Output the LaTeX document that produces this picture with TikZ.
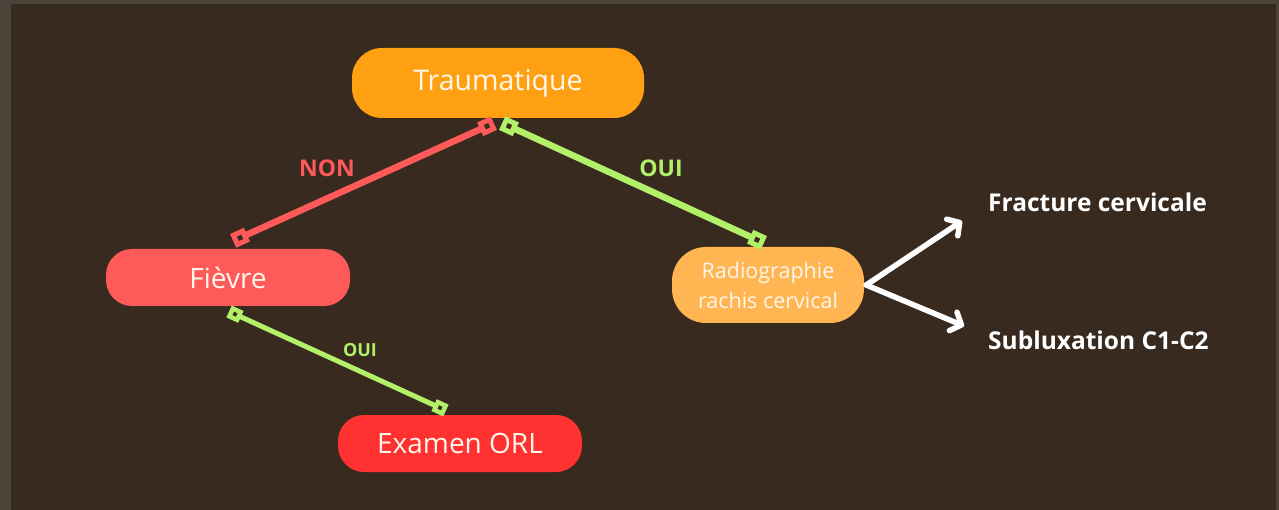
\documentclass[tikz,border=0pt]{standalone}
\usepackage{fontspec}
\setmainfont{Open Sans}
\usetikzlibrary{arrows.meta}
\definecolor{frame}{HTML}{4B4239}
\definecolor{bg}{HTML}{392A1F}
\definecolor{orangeA}{HTML}{FF9F12}
\definecolor{redA}{HTML}{FF5A5A}
\definecolor{redB}{HTML}{FF3131}
\definecolor{orangeB}{HTML}{FFB552}
\definecolor{greenA}{HTML}{B2F06A}
\definecolor{cream}{HTML}{FFF6EC}
\tikzset{
  pill/.style={draw=none, text=cream, align=center, inner sep=0pt},
  marker/.style={draw, fill=bg, sloped, shape=rectangle, inner sep=0pt, minimum size=10pt, line width=5pt},
  smarker/.style={draw, fill=bg, sloped, shape=rectangle, inner sep=0pt, minimum size=8.5pt, line width=4.5pt},
  nonline/.style={draw=redA, line width=6.5pt},
  ouiline/.style={draw=greenA, line width=6.5pt},
  smallouiline/.style={draw=greenA, line width=5pt},
  whitearrow/.style={draw=white, line width=5.5pt, line cap=round,
    -{Straight Barb[length=9pt,width=20pt,line width=5.5pt,round]}},
  outtext/.style={text=white, font=\fontsize{24.5}{28}\selectfont\bfseries, anchor=west, inner sep=0pt},
  lab/.style={font=\fontsize{23}{26}\selectfont\bfseries, inner sep=0pt}
}
\begin{document}
\begin{tikzpicture}[x=1pt,y=-1pt]
\useasboundingbox (0,0) rectangle (1279,510);
\fill[frame] (0,0) rectangle (1279,510);
\fill[bg] (11,4) rectangle (1276,510);

\node[pill, fill=orangeA, minimum width=292pt, minimum height=70pt, rounded corners=30pt,
  font=\fontsize{28.5}{32}\selectfont] (trau) at (498,83) {\raisebox{-1.5pt}{Traumatique}};
\node[pill, fill=redA, minimum width=244pt, minimum height=57pt, rounded corners=26pt,
  font=\fontsize{28}{32}\selectfont] (fiev) at (228,277.5) {Fièvre};
\node[pill, fill=redB, minimum width=244pt, minimum height=57pt, rounded corners=26pt,
  font=\fontsize{28}{32}\selectfont] (orl) at (460,443.5) {Examen ORL};
\node[pill, fill=orangeB, minimum width=192pt, minimum height=76pt, rounded corners=34pt,
  font=\fontsize{21.5}{30}\selectfont] (radio) at (768,285) {Radiographie\\rachis cervical};

\node[outtext] (frac) at (988,202) {Fracture cervicale};
\node[outtext] (sub) at (988,340) {Subluxation C1-C2};

\draw[nonline] ([shift={(-11,8)}]trau.south) -- ([shift={(12,-11)}]fiev.north)
  node[marker, draw=redA, pos=0] {} node[marker, draw=redA, pos=1] {};
\draw[ouiline] ([shift={(11,8)}]trau.south) -- ([shift={(-11,-7)}]radio.north)
  node[marker, draw=greenA, pos=0] {} node[marker, draw=greenA, pos=1] {};
\draw[smallouiline] ([shift={(7,8)}]fiev.south) -- ([shift={(-20,-7)}]orl.north)
  node[smarker, draw=greenA, pos=0] {} node[smarker, draw=greenA, pos=1] {};

\node[lab, text=redA] (non) at (327,168) {NON};
\node[lab, text=greenA] (oui1) at (661,168) {OUI};
\node[lab, text=greenA, font=\fontsize{18}{20}\selectfont\bfseries] (oui2) at (360,350) {OUI};

\coordinate (a1) at (962,221);
\coordinate (a2) at (964,326);
\draw[whitearrow] ([xshift=2]radio.east) -- (a1);
\draw[whitearrow] ([xshift=2]radio.east) -- (a2);
\end{tikzpicture}
\end{document}
